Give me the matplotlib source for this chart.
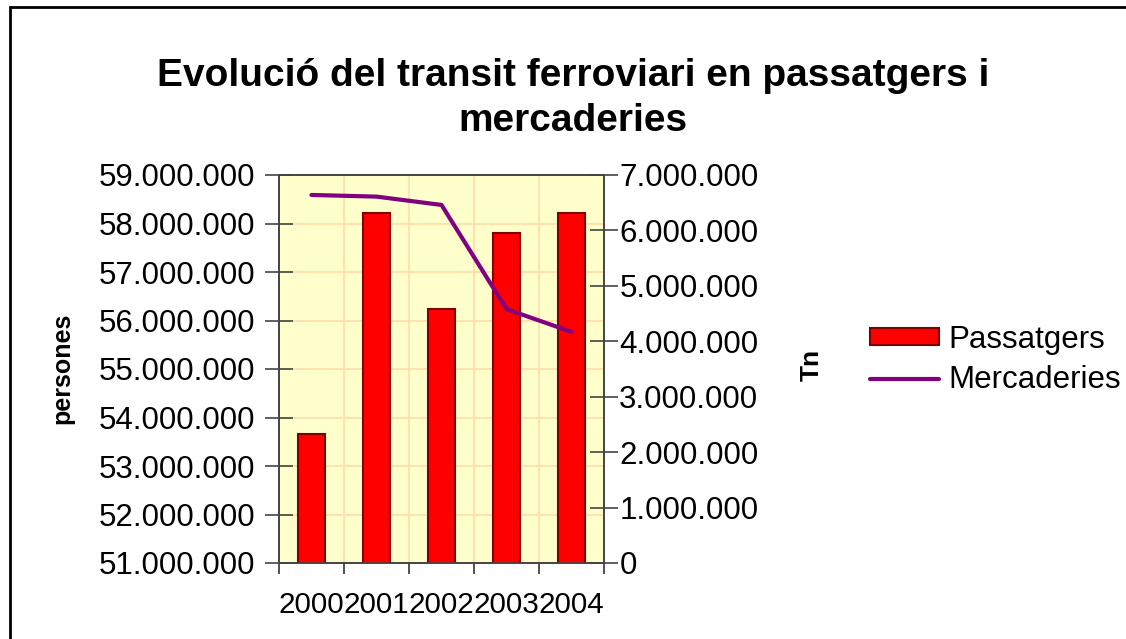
import matplotlib.pyplot as plt
from matplotlib.patches import Rectangle
from matplotlib.ticker import FuncFormatter, FixedLocator

years = ["2000", "2001", "2002", "2003", "2004"]
passatgers = [53650000, 58220000, 56240000, 57810000, 58220000]
mercaderies = [6640000, 6610000, 6460000, 4580000, 4170000]

plt.rcParams["font.family"] = ["Liberation Sans", "DejaVu Sans"]


def dots(v, pos):
    return f"{int(round(v)):,}".replace(",", ".")


fig = plt.figure(figsize=(11.26, 6.39), dpi=100)
fig.patches.append(Rectangle((10 / 1126, -0.05), 1.2, 1 - 7 / 639 + 0.05,
                             transform=fig.transFigure, fill=False,
                             edgecolor="black", linewidth=2))

ax = fig.add_axes([279 / 1126, 1 - 563 / 639, 325 / 1126, 388 / 639])
ax.set_facecolor("#FFFFCC")
x = list(range(len(years)))

ax.bar(x, passatgers, width=0.43, color="#FF0000", edgecolor="#800000",
       linewidth=1.5, zorder=3, label="Passatgers")
ax.set_ylim(51000000, 59000000)
ax.set_xlim(-0.5, 4.5)
ax.yaxis.set_major_locator(FixedLocator([51e6 + i * 1e6 for i in range(9)]))
ax.yaxis.set_major_formatter(FuncFormatter(dots))
ax.set_xticks(x)
ax.set_xticklabels(years)
ax.set_xticks([i - 0.5 for i in range(6)], minor=True)
ax.tick_params(axis="x", which="major", length=0, pad=20, labelsize=21.3)
ax.tick_params(axis="x", which="minor", length=8, width=1.2, color="#333333",
               direction="out")
ax.tick_params(axis="y", length=20, width=1.2, color="#444444", direction="inout",
               labelsize=22.5, pad=7)
ax.grid(True, which="major", axis="y", color="#FFDDAA", linewidth=1.2, zorder=0)
ax.grid(True, which="minor", axis="x", color="#FFDDAA", linewidth=1.2, zorder=0)
for s in ax.spines.values():
    s.set_color("#444444")
    s.set_linewidth(1.2)

ax2 = ax.twinx()
ax2.plot(x, mercaderies, color="#800080", linewidth=3, zorder=5,
         label="Mercaderies", solid_capstyle="round")
ax2.set_ylim(0, 7000000)
ax2.yaxis.set_major_locator(FixedLocator([i * 1e6 for i in range(8)]))
ax2.yaxis.set_major_formatter(FuncFormatter(dots))
ax2.tick_params(axis="y", length=20, width=1.2, color="#444444", direction="inout",
                labelsize=22.5, pad=1)
for s in ax2.spines.values():
    s.set_color("#444444")
    s.set_linewidth(1.2)

fig.text(573 / 1126, 1 - 76 / 639, "Evolució del transit ferroviari en passatgers i",
         ha="center", va="center", fontsize=28, fontweight="bold")
fig.text(573 / 1126, 1 - 121 / 639, "mercaderies",
         ha="center", va="center", fontsize=28, fontweight="bold")
fig.text(62 / 1126, 1 - 368 / 639, "persones", rotation=90, ha="center",
         va="center", fontsize=18, fontweight="bold")
fig.text(812 / 1126, 1 - 365 / 639, "Tn", rotation=90, ha="center",
         va="center", fontsize=19, fontweight="bold")

h1, l1 = ax.get_legend_handles_labels()
h2, l2 = ax2.get_legend_handles_labels()
fig.legend(h1 + h2, l1 + l2, loc="center left",
           bbox_to_anchor=(842 / 1126, 1 - 360 / 639), frameon=False,
           fontsize=22.5, handlelength=2.2, handleheight=0.45,
           handletextpad=0.3, labelspacing=0.35)

fig.savefig("out.png", dpi=100)
